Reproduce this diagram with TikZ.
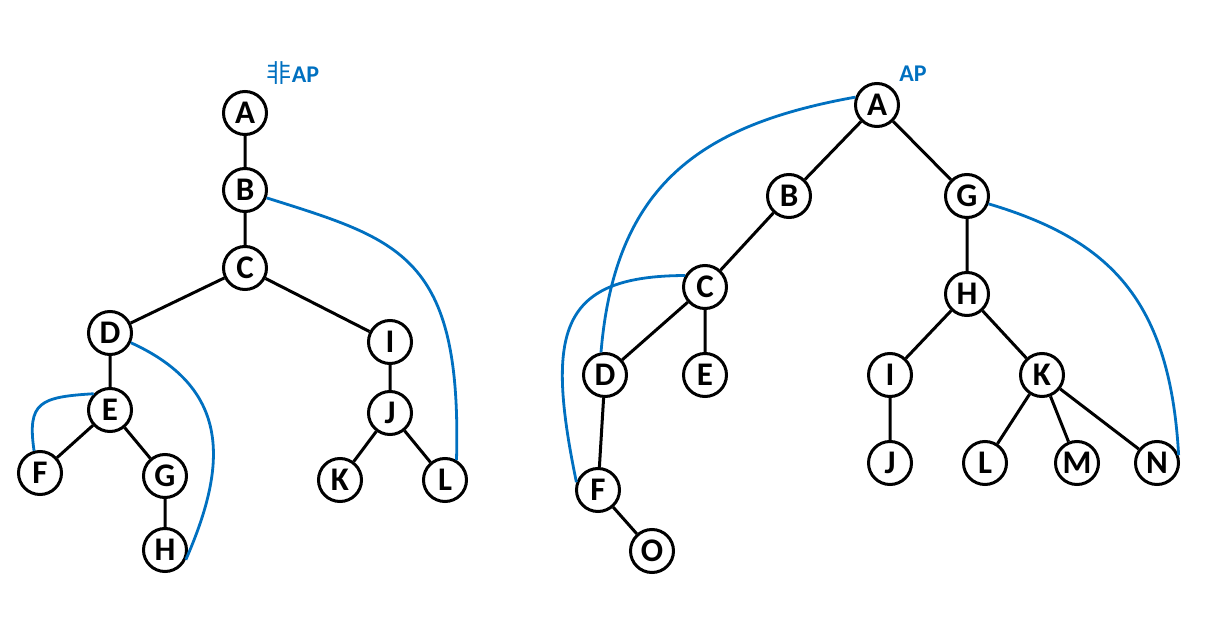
\documentclass[tikz,border=0pt]{standalone}
\usepackage{fontspec}
\setmainfont{Carlito}
\newfontfamily\cjk{Noto Sans CJK SC}
\definecolor{apblue}{RGB}{0,112,192}
\begin{document}
\begin{tikzpicture}[x=1pt,y=-1pt,
  vtx/.style={circle,draw=black,line width=3pt,minimum size=43pt,inner sep=0pt,font=\fontsize{33}{33}\selectfont\bfseries},
  tedge/.style={line width=3pt,black},
  back/.style={line width=2.8pt,apblue},
  lbl/.style={text=apblue,font=\fontsize{24}{24}\selectfont\bfseries,inner sep=0pt}]
\useasboundingbox (0,0) rectangle (1216,636);
% left tree
\node[vtx] (lA) at (245,113) {A};
\node[vtx] (lB) at (245,190) {B};
\node[vtx] (lC) at (245,268) {C};
\node[vtx] (lD) at (110,333) {D};
\node[vtx] (lI) at (390,342) {I};
\node[vtx] (lE) at (110,410) {E};
\node[vtx] (lJ) at (390,413) {J};
\node[vtx] (lF) at (40,473) {F};
\node[vtx] (lG) at (165,476) {G};
\node[vtx] (lK) at (340,480) {K};
\node[vtx] (lL) at (445,480) {L};
\node[vtx] (lH) at (165,550) {H};
\node[lbl] (lab1) at (293,73) {{\cjk\mdseries\fontsize{25}{25}\selectfont 非}AP};
\draw[tedge] (lA)--(lB) (lB)--(lC) (lC)--(lD) (lC)--(lI) (lD)--(lE) (lE)--(lF) (lE)--(lG) (lG)--(lH) (lI)--(lJ) (lJ)--(lK) (lJ)--(lL);
\draw[back] (lB.-20) .. controls (400,240) and (462,255) .. (lL.60);
\draw[back] (lD.-25) .. controls (235,390) and (225,470) .. (lH.-25);
\draw[back] (lE.135) .. controls (40,397) and (27,402) .. (lF.105);
% right tree
\node[vtx] (rA) at (877,105) {A};
\node[vtx] (rB) at (789,196) {B};
\node[vtx] (rG) at (967,196) {G};
\node[vtx] (rC) at (705,287) {C};
\node[vtx] (rH) at (967,294) {H};
\node[vtx] (rD) at (605,375) {D};
\node[vtx] (rE) at (705,375) {E};
\node[vtx] (rI) at (890,375) {I};
\node[vtx] (rK) at (1042,375) {K};
\node[vtx] (rF) at (598,490) {F};
\node[vtx] (rJ) at (890,463) {J};
\node[vtx] (rL) at (985,463) {L};
\node[vtx] (rM) at (1077,463) {M};
\node[vtx] (rN) at (1157,463) {N};
\node[vtx] (rO) at (652,551) {O};
\node[lbl] (lab2) at (913,74) {AP};
\draw[tedge] (rA)--(rB) (rA)--(rG) (rB)--(rC) (rC)--(rD) (rC)--(rE) (rD)--(rF) (rF)--(rO) (rG)--(rH) (rH)--(rI) (rH)--(rK) (rI)--(rJ) (rK)--(rL) (rK)--(rM) (rK)--(rN);
\draw[back] (rA.160) .. controls (700,125) and (615,185) .. (rD.100);
\draw[back] (rC.150) .. controls (560,276) and (545,330) .. (rF.160);
\draw[back] (rG.-20) .. controls (1110,240) and (1170,300) .. (rN.20);
\end{tikzpicture}
\end{document}
